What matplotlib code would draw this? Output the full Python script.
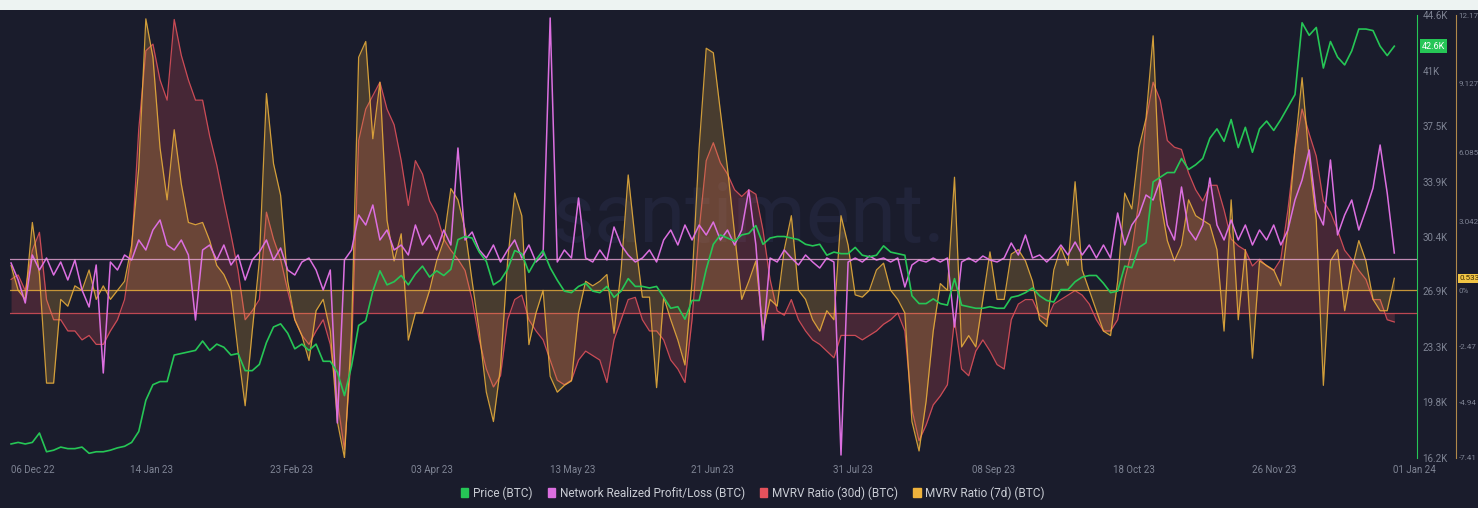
import numpy as np
import pandas as pd
import matplotlib
matplotlib.use("Agg")
import matplotlib.pyplot as plt
from matplotlib.patches import Patch, Rectangle

plt.rcParams['font.family'] = ['Roboto', 'DejaVu Sans']

# ---- data (2-day samples, 06 Dec 2022 -> 31 Dec 2023) ----
dates = pd.date_range("2022-12-06", periods=196, freq="2D")

price_k = [
    17.1, 17.2, 17.1, 17.2, 17.8, 16.6, 16.7, 16.9, 16.8, 16.8, 16.9, 16.5, 16.6, 16.6, 16.7, 16.85,
    16.95, 17.2, 17.9, 19.9, 20.9, 21.1, 21.1, 22.8, 22.9, 23.0, 23.1, 23.7, 23.1, 23.5, 23.3, 22.8,
    22.9, 21.8, 21.8, 22.2, 23.6, 24.6, 24.8, 24.2, 23.2, 23.5, 23.1, 23.5, 22.4, 22.4, 21.7, 20.2,
    22.1, 24.7, 25.0, 26.9, 28.2, 27.3, 27.5, 27.9, 27.3, 28.0, 28.5, 27.8, 28.2, 27.9, 28.3, 30.2,
    30.4, 30.3, 29.4, 28.8, 27.3, 27.6, 28.3, 29.5, 29.3, 28.1, 28.9, 29.5, 28.4, 27.6, 26.9, 26.8,
    27.2, 27.4, 26.9, 26.8, 27.2, 26.5, 26.9, 27.7, 27.2, 27.2, 27.1, 27.2, 26.5, 25.8, 25.9, 25.1,
    26.3, 26.3, 28.3, 29.9, 30.5, 30.3, 30.1, 30.5, 30.6, 31.1, 29.9, 30.3, 30.4, 30.4, 30.3, 30.2,
    29.9, 29.8, 29.9, 29.2, 29.4, 29.3, 29.3, 29.7, 29.2, 29.1, 29.2, 29.8, 29.4, 29.3, 29.2, 26.6,
    26.1, 26.1, 26.4, 26.1, 26.0, 27.7, 26.0, 25.9, 25.8, 25.8, 25.9, 25.8, 25.8, 26.5, 26.6, 26.8,
    27.1, 26.6, 26.3, 26.2, 27.0, 27.0, 27.5, 27.8, 27.9, 27.9, 27.4, 26.8, 26.9, 28.5, 28.4, 29.7,
    30.0, 33.9, 34.2, 34.5, 34.5, 35.4, 34.7, 35.0, 35.4, 36.7, 37.3, 36.5, 37.9, 36.1, 37.4, 35.8,
    37.3, 37.8, 37.2, 37.9, 38.7, 39.5, 44.1, 43.3, 43.8, 41.2, 42.9, 41.9, 41.4, 42.3, 43.7, 43.7,
    43.6, 42.6, 42.0, 42.6,
]

nrpl = [
    -0.4, -2.1, -4.4, 0.4, -1.1, 0.1, -1.6, -0.3, -2.1, -0.1, -3.1, -4.8, -0.6, -11.4, -0.3, -1.1,
    0.4, -0.1, 1.9, 0.9, 2.9, 3.9, 1.4, 0.9, 1.9, 0.4, -6.1, 0.9, 1.4, -0.1, 1.4, -0.6,
    0.4, -2.1, -0.1, 0.7, 1.9, -0.1, 1.1, -1.1, -1.6, -0.3, 0.1, -1.1, -3.1, -1.1, -16.4, -0.1,
    0.9, 4.4, 3.4, 5.4, 1.9, 2.9, 0.9, 1.4, 0.4, 3.4, 1.4, 2.4, 0.9, 2.9, 1.4, 11.1,
    1.9, 2.7, 0.9, 0.1, 1.4, -0.3, 0.9, 1.9, 0.1, 1.4, -0.3, 0.4, 24.1, -0.3, 0.9, 0.1,
    6.1, 0.1, -0.3, 0.9, -0.1, 3.2, 1.4, 0.4, -0.3, 0.1, 0.9, -0.3, 1.9, 2.9, 1.4, 3.4,
    1.9, 3.4, 2.4, 3.7, 1.9, 2.9, 1.4, 2.9, 6.9, 1.4, -8.1, 0.1, -0.3, 0.9, 0.1, -0.6,
    0.4, -0.3, -0.9, 0.1, -0.3, -19.6, -0.3, 0.1, -0.3, 0.3, -0.1, 0.1, -0.3, 0.1, -2.8, -0.6,
    -0.1, -0.3, 0.1, -0.3, 0.1, -6.8, -0.3, 0.1, -0.3, 0.3, -0.1, -0.3, 0.1, 1.6, 0.4, 2.4,
    0.1, 0.4, -0.3, 0.4, 1.4, 0.4, 1.7, 0.4, 1.4, 0.1, 1.4, 0.1, 4.6, 1.4, 3.4, 4.4,
    6.4, 5.9, 7.9, 3.4, 1.9, 7.2, 2.9, 1.9, 3.4, 8.1, 3.4, 1.9, 3.9, 1.9, 3.4, 1.4,
    2.9, 1.9, 3.4, 1.4, 2.9, 5.9, 7.9, 10.9, 4.9, 3.4, 9.9, 2.4, 4.4, 5.9, 2.9, 4.9,
    7.1, 11.4, 6.6, 0.6,
]

mvrv_30d = [
    1.5, 1.7, 1.0, 2.8, 3.6, 0.6, -0.3, -0.3, -0.8, -0.8, -1.2, -1.0, -1.4, -1.4, -0.8, -0.3,
    0.6, 2.8, 8.2, 11.7, 12.0, 10.4, 9.5, 13.1, 11.5, 10.4, 9.5, 9.5, 7.9, 6.6, 5.0, 3.5,
    1.9, -0.3, 0.1, 0.6, 4.5, 3.3, 2.4, 1.0, -0.3, -1.0, -1.4, -0.8, -0.3, -1.4, -3.9, -6.1,
    -1.7, 7.7, 9.1, 9.7, 10.3, 9.1, 8.4, 6.8, 4.8, 6.8, 6.2, 5.0, 4.4, 3.3, 2.8, 2.4,
    1.9, 0.6, -1.2, -2.5, -3.3, -2.8, -0.3, 0.6, 0.8, -0.3, -0.8, -1.2, -2.1, -3.0, -3.2, -3.0,
    -2.1, -1.7, -1.9, -2.1, -3.1, -1.2, -0.3, 0.6, 0.7, -0.3, -0.8, -0.8, -1.2, -2.1, -2.5, -3.1,
    -0.3, 3.7, 6.8, 7.6, 6.7, 6.2, 5.5, 5.2, 5.5, 5.3, 3.7, 1.5, 0.1, -0.1, 0.6, -0.3,
    -0.8, -1.2, -1.4, -1.7, -2.0, -1.0, -1.0, -1.0, -1.2, -1.0, -0.8, -0.5, -0.3, 0.0, -0.8, -4.3,
    -5.7, -5.0, -4.1, -3.7, -3.2, -0.3, -2.5, -2.8, -1.7, -1.2, -1.7, -2.3, -2.5, -0.3, 0.4, 0.6,
    0.6, -0.1, -0.3, 0.4, 0.6, 0.8, 1.0, 0.8, 0.4, -0.3, -0.8, -0.8, -0.3, 1.5, 2.8, 5.0,
    8.6, 10.3, 9.5, 7.7, 7.4, 7.3, 6.25, 5.5, 5.0, 5.7, 5.7, 4.6, 3.3, 3.0, 2.8, 2.1,
    2.4, 2.1, 1.9, 2.4, 4.6, 7.3, 9.1, 8.0, 7.0, 5.0, 4.5, 3.7, 2.8, 2.4, 1.9, 1.5,
    0.6, 0.6, -0.3, -0.4,
]

mvrv_7d = [
    1.1, 0.0, -0.4, 3.0, 0.7, -4.1, -4.1, -0.4, -0.7, 0.2, 0.0, 0.9, -0.4, 0.2, -0.4, 0.0,
    0.4, 2.0, 5.4, 12.0, 10.3, 6.3, 4.0, 7.1, 4.7, 3.0, 2.9, 3.0, 2.2, 1.1, 0.7, 0.0,
    -2.7, -5.1, -1.8, 1.3, 8.7, 5.6, 4.2, 0.4, -1.3, -2.0, -3.1, -0.9, -0.4, -1.8, -5.8, -7.4,
    -1.8, 10.3, 11.0, 6.7, 9.2, 3.1, 1.3, 2.5, -2.2, -1.0, -1.0, 0.0, 1.3, 2.2, 4.5, 4.0,
    2.7, 0.4, -1.8, -4.5, -5.8, -3.4, 1.3, 4.3, 3.3, -2.4, -1.0, 0.0, -3.8, -4.5, -4.2, -4.0,
    -1.0, 0.4, 0.2, 0.4, 0.7, -1.9, 0.9, 5.1, 2.2, -0.3, -0.3, -4.3, -0.3, -1.3, -2.2, -3.3,
    0.4, 6.3, 10.7, 10.5, 7.9, 5.4, 2.5, -0.4, 0.4, 1.3, -1.8, -0.4, -0.7, 1.8, 3.3, 0.0,
    -0.4, -1.3, -1.8, -0.9, -1.3, 3.3, 2.0, -0.2, -0.3, 0.0, 0.9, 1.2, 0.0, -0.4, -1.0, -5.8,
    -7.1, -4.9, -1.8, 0.3, 0.0, 5.0, -2.5, -2.0, -2.5, -0.4, 1.7, -0.4, -0.4, 1.6, 1.8, 1.3,
    0.4, -1.3, -1.6, 0.9, 1.9, 1.1, 4.8, 0.9, 0.0, -0.9, -1.8, -2.0, 0.4, 4.3, 3.6, 6.3,
    7.6, 11.25, 4.0, 2.2, 1.3, 2.0, 4.0, 3.3, 3.1, 2.9, 1.8, -1.8, 4.0, -1.3, 1.8, -3.0,
    1.3, 1.1, 0.9, 0.2, 2.7, 6.3, 9.4, 5.8, 3.1, -4.2, 1.3, 1.8, -0.9, 0.9, 2.2, 1.3,
    -0.4, -0.9, -0.9, 0.533,
]

x_labels = ["06 Dec 22", "14 Jan 23", "23 Feb 23", "03 Apr 23", "13 May 23", "21 Jun 23",
            "31 Jul 23", "08 Sep 23", "18 Oct 23", "26 Nov 23", "01 Jan 24"]
price_ticks = [44.6, 41, 37.5, 33.9, 30.4, 26.9, 23.3, 19.8, 16.2]
mvrv_ticks = [12.17, 9.127, 6.085, 3.042, 0, -2.47, -4.94, -7.41]
mvrv_tick_labels = ["12.17", "9.127", "6.085", "3.042", "0%", "-2.47", "-4.94", "-7.41"]

# ---- colours ----
BG = "#1a1c2c"
GREEN = "#26c656"
PINK = "#dc6fe0"
RED = "#e4525c"
ORANGE = "#eeb23c"
TICK = "#7f8494"

days = np.asarray((dates - dates[0]).days, dtype=float)

fig = plt.figure(figsize=(14.78, 5.08), dpi=100, facecolor=BG)
fig.patches.append(Rectangle((0, 498 / 508), 1, 10 / 508, transform=fig.transFigure,
                             facecolor="#edf3f2", edgecolor="none", zorder=0))

rect = [10 / 1478, 50 / 508, 1407 / 1478, 443 / 508]
ax = fig.add_axes(rect, facecolor=BG)       # 30d MVRV (hidden scale) + x axis
ax7 = ax.twinx()                            # 7d MVRV, visible % axis
axn = ax.twinx()                            # NRPL (hidden scale)
axp = ax.twinx()                            # price axis

xmax = 396.4
for a in (ax, ax7, axn, axp):
    a.set_xlim(-0.3, xmax)
    for s in a.spines.values():
        s.set_visible(False)
    a.tick_params(length=0)

# watermark
ax.text(0.525, 0.54, "santiment.", transform=ax.transAxes, ha="center", va="center",
        fontsize=60, color="#21243a", zorder=0)

# MVRV 30d
ax.set_ylim(-6.47, 13.3)
ax.fill_between(days, mvrv_30d, 0, color=RED, alpha=0.22, lw=0, zorder=1)
ax.plot(days, mvrv_30d, color=RED, lw=0.9, alpha=0.85, zorder=2)
ax.axhline(0, color=RED, lw=0.9, alpha=0.8, zorder=2)
ax.set_yticks([])

# MVRV 7d
ax7.set_ylim(-7.41, 12.17)
ax7.fill_between(days, mvrv_7d, 0, color=ORANGE, alpha=0.22, lw=0, zorder=1)
ax7.plot(days, mvrv_7d, color=ORANGE, lw=0.9, alpha=0.85, zorder=2)
ax7.axhline(0, color=ORANGE, lw=0.9, alpha=0.8, zorder=2)
ax7.spines["right"].set_visible(True)
ax7.spines["right"].set_position(("outward", 28))
ax7.spines["right"].set_color("#b0894a")
ax7.set_yticks(mvrv_ticks)
ax7.set_yticklabels(mvrv_tick_labels)
ax7.tick_params(axis="y", colors=TICK, labelsize=5.8, pad=2)

# NRPL
axn.set_ylim(-19.9, 24.4)
axn.plot(days, nrpl, color=PINK, lw=1.1, zorder=3)
axn.axhline(0, color="#e9a7d6", lw=0.9, alpha=0.8, zorder=3)
axn.set_yticks([])

# price
axp.set_ylim(16.2, 44.6)
axp.plot(days, price_k, color=GREEN, lw=1.2, zorder=4)
axp.spines["right"].set_visible(True)
axp.spines["right"].set_color(GREEN)
axp.set_yticks(price_ticks)
axp.set_yticklabels([f"{v:g}K" for v in price_ticks])
axp.tick_params(axis="y", colors=TICK, labelsize=7, pad=4)

# last-value badges
axp.annotate(f"{price_k[-1]:.1f}K", xy=(1.0035, price_k[-1]), xycoords=("axes fraction", "data"),
             ha="left", va="center", fontsize=6.5, color="white",
             bbox=dict(boxstyle="square,pad=0.25", fc=GREEN, ec="none"))
ax7.annotate(f"{mvrv_7d[-1]:.3f}", xy=(1.0305, mvrv_7d[-1]), xycoords=("axes fraction", "data"),
             ha="left", va="center", fontsize=5.8, color="#3a2a05",
             bbox=dict(boxstyle="square,pad=0.2", fc="#f2c544", ec="none"), annotation_clip=False)

# x axis labels
ticks = np.linspace(0, 395.6, len(x_labels))
ax.set_xticks(ticks)
ax.set_xticklabels(x_labels)
ax.tick_params(axis="x", colors=TICK, labelsize=7, pad=5)
ax.get_xticklabels()[0].set_ha("left")

# legend
handles = [Patch(color=GREEN), Patch(color=PINK), Patch(color=RED), Patch(color=ORANGE)]
labels = ["Price (BTC)", "Network Realized Profit/Loss (BTC)", "MVRV Ratio (30d) (BTC)",
          "MVRV Ratio (7d) (BTC)"]
fig.legend(handles, labels, loc="center", bbox_to_anchor=(0.5095, 1 - 493 / 508), ncol=4,
           frameon=False, fontsize=8.5, labelcolor="#c9ccd4", handlelength=0.6,
           handleheight=0.8, handletextpad=0.4, columnspacing=1.3)

fig.savefig("out.png", dpi=100, facecolor=BG)
